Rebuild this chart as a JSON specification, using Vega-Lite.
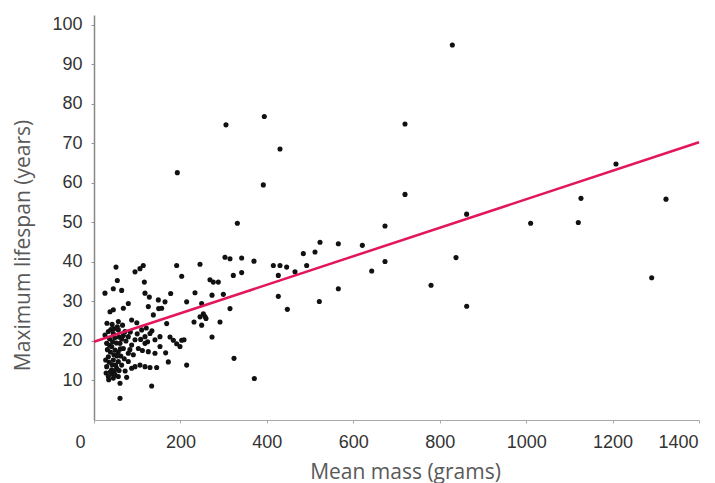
{
  "$schema": "https://vega.github.io/schema/vega-lite/v6.json",
  "width": 605,
  "height": 405,
  "autosize": "none",
  "padding": {"left": 94, "top": 15, "right": 16, "bottom": 63},
  "background": "white",
  "config": {"view": {"stroke": null}},
  "datasets": {
    "pts": [
      {"mass": 25.4, "life": 32.1}, {"mass": 37, "life": 27.4}, {"mass": 44.7, "life": 27.9}, {"mass": 56.3, "life": 24.9},
      {"mass": 67.9, "life": 28.3}, {"mass": 79.4, "life": 29.5}, {"mass": 87.1, "life": 25.3}, {"mass": 118, "life": 32.1},
      {"mass": 125.7, "life": 28.7}, {"mass": 148.9, "life": 30.4}, {"mass": 156.6, "life": 28.3}, {"mass": 137.3, "life": 26.6},
      {"mass": 33.2, "life": 22.4}, {"mass": 25.4, "life": 21.5}, {"mass": 44.7, "life": 21.9}, {"mass": 56.3, "life": 22.8},
      {"mass": 71.7, "life": 22.4}, {"mass": 79.4, "life": 21.1}, {"mass": 94.9, "life": 20.3}, {"mass": 110.3, "life": 22.8},
      {"mass": 118, "life": 21.1}, {"mass": 129.6, "life": 21.9}, {"mass": 141.1, "life": 20.3}, {"mass": 152.7, "life": 21.1},
      {"mass": 29.3, "life": 19.4}, {"mass": 40.9, "life": 18.6}, {"mass": 48.6, "life": 17.7}, {"mass": 60.2, "life": 19.4},
      {"mass": 67.9, "life": 18.1}, {"mass": 79.4, "life": 16.9}, {"mass": 87.1, "life": 19}, {"mass": 102.6, "life": 18.1},
      {"mass": 118, "life": 19.4}, {"mass": 125.7, "life": 17.3}, {"mass": 141.1, "life": 16.9}, {"mass": 152.7, "life": 18.6},
      {"mass": 33.2, "life": 16}, {"mass": 44.7, "life": 15.2}, {"mass": 56.3, "life": 14.8}, {"mass": 29.3, "life": 13.5},
      {"mass": 40.9, "life": 12.7}, {"mass": 52.4, "life": 13.1}, {"mass": 64, "life": 13.9}, {"mass": 79.4, "life": 14.8},
      {"mass": 87.1, "life": 13.1}, {"mass": 94.9, "life": 13.5}, {"mass": 106.4, "life": 13.9}, {"mass": 118, "life": 13.5},
      {"mass": 129.6, "life": 13.3}, {"mass": 145, "life": 13.3}, {"mass": 33.2, "life": 11}, {"mass": 44.7, "life": 10.6},
      {"mass": 56.3, "life": 11}, {"mass": 40.9, "life": 11.8}, {"mass": 75.6, "life": 10.8}, {"mass": 60.2, "life": 9.3},
      {"mass": 133.4, "life": 8.6}, {"mass": 60.2, "life": 5.5},
      {"mass": 36, "life": 20.5}, {"mass": 48, "life": 20.8}, {"mass": 52, "life": 19.5}, {"mass": 38, "life": 17.2},
      {"mass": 46, "life": 16.5}, {"mass": 35, "life": 14.6}, {"mass": 50, "life": 13.9}, {"mass": 42, "life": 24.2},
      {"mass": 58, "life": 21}, {"mass": 64, "life": 20.5}, {"mass": 30, "life": 24.5}, {"mass": 56, "life": 17.2},
      {"mass": 31, "life": 17.8}, {"mass": 43, "life": 19.8}, {"mass": 54, "life": 23.6}, {"mass": 62, "life": 16.2},
      {"mass": 70, "life": 15.5}, {"mass": 38, "life": 12.2}, {"mass": 47, "life": 12.3}, {"mass": 66, "life": 24},
      {"mass": 74, "life": 20}, {"mass": 84, "life": 22.3}, {"mass": 91, "life": 16.5}, {"mass": 99, "life": 24.6},
      {"mass": 112, "life": 17.6}, {"mass": 124, "life": 19.8}, {"mass": 134, "life": 22.6}, {"mass": 100, "life": 21.8},
      {"mass": 27, "life": 15.2}, {"mass": 36, "life": 18.9}, {"mass": 42, "life": 14}, {"mass": 49, "life": 11.4},
      {"mass": 53, "life": 16.2}, {"mass": 58, "life": 12.5}, {"mass": 61, "life": 18}, {"mass": 68, "life": 21.4},
      {"mass": 39, "life": 22.9}, {"mass": 46, "life": 23.1}, {"mass": 28, "life": 11.9}, {"mass": 34, "life": 10.2},
      {"mass": 72, "life": 12.4}, {"mass": 83, "life": 17.8}, {"mass": 108, "life": 20.4}, {"mass": 121, "life": 23.3},
      {"mass": 50.9, "life": 38.7}, {"mass": 54, "life": 35.3}, {"mass": 44.7, "life": 33.2}, {"mass": 64, "life": 32.8},
      {"mass": 94.9, "life": 37.5}, {"mass": 114, "life": 39.1}, {"mass": 106.4, "life": 38.3}, {"mass": 116.5, "life": 34.9},
      {"mass": 128, "life": 31.1}, {"mass": 149.6, "life": 28.2}, {"mass": 164.3, "life": 29.9}, {"mass": 177.4, "life": 32},
      {"mass": 191.3, "life": 39.1}, {"mass": 202.9, "life": 36.4}, {"mass": 245.3, "life": 39.4}, {"mass": 214.4, "life": 29.9},
      {"mass": 233.7, "life": 32.2}, {"mass": 249.1, "life": 29.5}, {"mass": 253, "life": 26.9}, {"mass": 245.3, "life": 26.1},
      {"mass": 231.4, "life": 24.8}, {"mass": 249.1, "life": 24}, {"mass": 259.2, "life": 25.7}, {"mass": 273.1, "life": 31.6},
      {"mass": 268.4, "life": 35.5}, {"mass": 276.1, "life": 34.9}, {"mass": 287.7, "life": 34.9}, {"mass": 299.3, "life": 31.8},
      {"mass": 291.6, "life": 24.8}, {"mass": 273.1, "life": 21}, {"mass": 314.7, "life": 28.2}, {"mass": 322.4, "life": 36.6},
      {"mass": 341.7, "life": 37.3}, {"mass": 341.7, "life": 41}, {"mass": 314.7, "life": 40.8}, {"mass": 303.1, "life": 41.2},
      {"mass": 370.2, "life": 40.2}, {"mass": 324, "life": 15.6}, {"mass": 371, "life": 10.5}, {"mass": 415, "life": 39.1},
      {"mass": 430.4, "life": 39.1}, {"mass": 445.8, "life": 38.7}, {"mass": 426.5, "life": 36.6}, {"mass": 465.1, "life": 37.5},
      {"mass": 484.4, "life": 42.1}, {"mass": 511.4, "life": 42.5}, {"mass": 523, "life": 45}, {"mass": 565.4, "life": 44.6},
      {"mass": 492.1, "life": 39.1}, {"mass": 426.5, "life": 31.3}, {"mass": 447.4, "life": 28}, {"mass": 521.4, "life": 30},
      {"mass": 565.4, "life": 33.2}, {"mass": 168.2, "life": 24.4}, {"mass": 175.9, "life": 21}, {"mass": 183.6, "life": 20.2},
      {"mass": 191.3, "life": 19.3}, {"mass": 202.9, "life": 20.2}, {"mass": 214.4, "life": 13.9}, {"mass": 172, "life": 14.7},
      {"mass": 165.8, "life": 17}, {"mass": 208.3, "life": 20.3}, {"mass": 199, "life": 18.6}, {"mass": 256.8, "life": 26.2},
      {"mass": 192.8, "life": 62.6}, {"mass": 305.4, "life": 74.7}, {"mass": 394.1, "life": 76.8}, {"mass": 430.4, "life": 68.6},
      {"mass": 391.8, "life": 59.5}, {"mass": 331.7, "life": 49.8}, {"mass": 829.2, "life": 94.9}, {"mass": 719.7, "life": 74.9},
      {"mass": 719.7, "life": 57.1}, {"mass": 673.4, "life": 49.1}, {"mass": 862.3, "life": 52.1}, {"mass": 1010.4, "life": 49.8},
      {"mass": 1120.7, "life": 50}, {"mass": 1126.9, "life": 56.1}, {"mass": 1207.9, "life": 64.8}, {"mass": 1323.6, "life": 55.9},
      {"mass": 621, "life": 44.2}, {"mass": 642.6, "life": 37.7}, {"mass": 673.4, "life": 40.1}, {"mass": 837.7, "life": 41.1},
      {"mass": 779.9, "life": 34.1}, {"mass": 862.4, "life": 28.8}, {"mass": 1290.5, "life": 36}
    ],
    "fit": [
      {"mass": 0, "life": 19.8},
      {"mass": 1400, "life": 70.3}
    ]
  },
  "encoding": {
    "x": {
      "field": "mass", "type": "quantitative",
      "scale": {"domain": [0, 1400], "nice": false, "zero": false},
      "axis": {
        "title": "Mean mass (grams)",
        "values": [0, 200, 400, 600, 800, 1000, 1200, 1400],
        "format": "d",
        "labelOverlap": false,
        "labelBound": false,
        "labelFlush": false,
        "grid": false,
        "domainColor": "#aaaaaa", "domainWidth": 1,
        "tickColor": "#aaaaaa", "tickSize": 3,
        "labelFont": "Liberation Sans", "labelFontSize": 18, "labelColor": "#333333",
        "labelPadding": 10,
        "labelOffset": {"condition": [{"test": "datum.value === 0", "value": -14}, {"test": "datum.value === 1400", "value": -21}], "value": 0},
        "titleFont": "Open Sans", "titleFontSize": 21, "titleFontWeight": "normal", "titleColor": "#595959",
        "titleX": 311, "titleY": 58, "titleBaseline": "alphabetic", "titleAlign": "center"
      }
    },
    "y": {
      "field": "life", "type": "quantitative",
      "scale": {"domain": [0, 102.5], "nice": false, "zero": false},
      "axis": {
        "title": "Maximum lifespan (years)",
        "values": [10, 20, 30, 40, 50, 60, 70, 80, 90, 100],
        "format": "d",
        "labelOverlap": false,
        "labelBound": false,
        "labelFlush": false,
        "grid": false,
        "domainColor": "#888888", "domainWidth": 1.5,
        "tickColor": "#999999", "tickSize": 3,
        "labelFont": "Liberation Sans", "labelFontSize": 18, "labelColor": "#333333",
        "labelPadding": 9,
        "titleFont": "Open Sans", "titleFontSize": 21, "titleFontWeight": "normal", "titleColor": "#595959",
        "titleX": -65, "titleY": 230, "titleAngle": 270, "titleBaseline": "alphabetic", "titleAlign": "center"
      }
    }
  },
  "layer": [
    {
      "data": {"name": "pts"},
      "mark": {"type": "circle", "size": 26, "color": "#111111", "opacity": 1}
    },
    {
      "data": {"name": "fit"},
      "mark": {"type": "line", "color": "#e3165b", "strokeWidth": 2.5}
    }
  ]
}
